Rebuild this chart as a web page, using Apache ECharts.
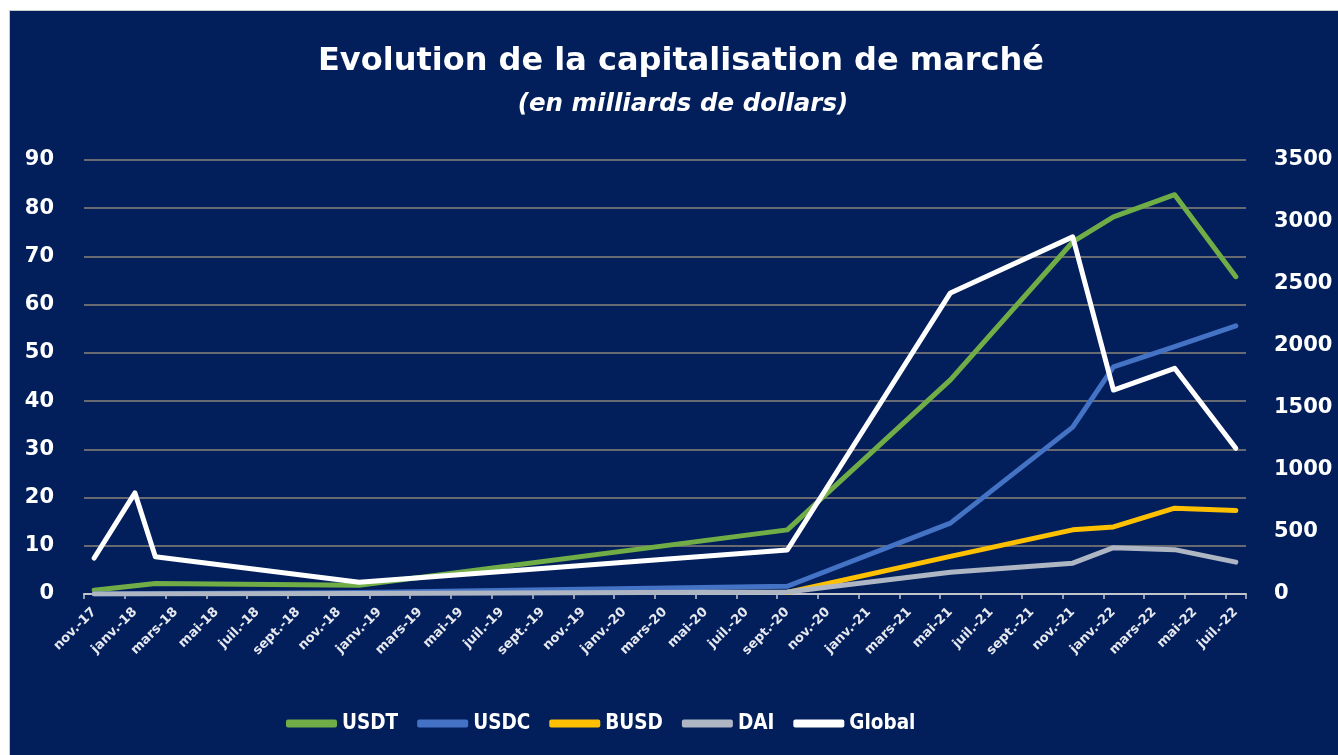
<!DOCTYPE html>
<html>
<head>
<meta charset="utf-8">
<script src="https://cdn.jsdelivr.net/npm/echarts@6/dist/echarts.min.js"></script>
<style>
  html, body { margin: 0; padding: 0; background: #ffffff; }
  #panel { position: absolute; left: 9px; top: 10px; width: 1329px; height: 745px;
           background: #021F5C; border-top: 1px solid #c9c9c9; border-left: 1px solid #c9c9c9; box-sizing: border-box; }
  #chart { position: absolute; left: 0; top: 0; width: 1338px; height: 755px; }
</style>
</head>
<body>
<div id="panel"></div>
<div id="chart"></div>
<script>
// Monthly categories (labels shown every 2 months)
const months = [
  'nov.-17','déc.-17',
  'janv.-18','févr.-18','mars-18','avr.-18','mai-18','juin-18','juil.-18','août-18','sept.-18','oct.-18','nov.-18','déc.-18',
  'janv.-19','févr.-19','mars-19','avr.-19','mai-19','juin-19','juil.-19','août-19','sept.-19','oct.-19','nov.-19','déc.-19',
  'janv.-20','févr.-20','mars-20','avr.-20','mai-20','juin-20','juil.-20','août-20','sept.-20','oct.-20','nov.-20','déc.-20',
  'janv.-21','févr.-21','mars-21','avr.-21','mai-21','juin-21','juil.-21','août-21','sept.-21','oct.-21','nov.-21','déc.-21',
  'janv.-22','févr.-22','mars-22','avr.-22','mai-22','juin-22','juil.-22'
];
// Months at which values are observed
const pointMonths = ['nov.-17','janv.-18','févr.-18','déc.-18','sept.-20','mai-21','nov.-21','janv.-22','avr.-22','juil.-22'];
// Values in billions of dollars (null = no point at that month)
const usdt   = [0.8, null, 2.2, 1.8, 13.3, 44.4, 73.0, 78.2, 82.8, 65.8];
const usdc   = [0.0, null, null, 0.3, 1.6, 14.7, 34.6, 47.1, 51.3, 55.6];
const busd   = [null, null, null, null, 0.3, 7.8, 13.3, 13.9, 17.8, 17.3];
const dai    = [0.0, null, null, 0.1, 0.4, 4.5, 6.4, 9.6, 9.2, 6.6];
const global = [290, 815, 300, 95, 355, 2428, 2880, 1645, 1820, 1175];

const leftTicks  = {min: 0, max: 90, interval: 10};
const rightTicks = {min: 0, max: 3500, interval: 500};

function pairs(vals) {
  const out = [];
  vals.forEach((v, i) => { if (v !== null) out.push([pointMonths[i], v]); });
  return out;
}

const chart = echarts.init(document.getElementById('chart'), null, {renderer: 'canvas'});
const baseFont = '"DejaVu Sans", sans-serif';
function line(name, color, data, yIdx) {
  return {
    name, type: 'line', data: pairs(data), yAxisIndex: yIdx || 0,
    symbol: 'none', showSymbol: false,
    lineStyle: {color, width: 5, cap: 'round', join: 'round'},
    itemStyle: {color}, emphasis: {disabled: true}, animation: false
  };
}

chart.setOption({
  backgroundColor: 'transparent',
  animation: false,
  graphic: [
    {type: 'text', x: 681, y: 62, style: {text: 'Evolution de la capitalisation de marché',
      fill: '#ffffff', font: 'bold 32px ' + baseFont, align: 'center', verticalAlign: 'middle',
      textAlign: 'center', textVerticalAlign: 'middle'}},
    {type: 'text', x: 683, y: 105, style: {text: '(en milliards de dollars)',
      fill: '#ffffff', font: 'italic bold 24.5px ' + baseFont, align: 'center', verticalAlign: 'middle',
      textAlign: 'center', textVerticalAlign: 'middle'}}
  ],
  grid: {left: 84, right: 92, top: 160, bottom: 161, containLabel: false},
  legend: {
    left: 281, top: 708, itemWidth: 51, itemHeight: 8, itemGap: 19, icon: 'roundRect',
    lineStyle: {width: 7, cap: 'round'},
    textStyle: {color: '#ffffff', fontSize: 20.5, fontWeight: 'bold',
      fontFamily: '"Liberation Sans Narrow", "DejaVu Sans Condensed", sans-serif'},
    data: ['USDT', 'USDC', 'BUSD', 'DAI', 'Global'],
    selectedMode: false
  },
  xAxis: {
    type: 'category', data: months, boundaryGap: true,
    axisLine: {lineStyle: {color: '#c3c6cc', width: 2}},
    axisTick: {show: true, interval: 1, length: 5, lineStyle: {color: '#c3c6cc', width: 1.5}},
    axisLabel: {interval: 1, rotate: 45, margin: 16, color: '#e6e8ee',
      fontSize: 13, fontWeight: 'bold', fontFamily: baseFont},
    splitLine: {show: false}
  },
  yAxis: [
    {type: 'value', min: leftTicks.min, max: leftTicks.max, interval: leftTicks.interval,
      axisLine: {show: false}, axisTick: {show: false},
      axisLabel: {margin: 30, color: '#ffffff', fontSize: 21, fontWeight: 'bold', fontFamily: baseFont},
      splitLine: {lineStyle: {color: '#8a8578', width: 1.5}}},
    {type: 'value', min: rightTicks.min, max: rightTicks.max, interval: rightTicks.interval,
      axisLine: {show: false}, axisTick: {show: false},
      axisLabel: {margin: 28, color: '#ffffff', fontSize: 21, fontWeight: 'bold', fontFamily: baseFont,
        formatter: v => String(v)},
      splitLine: {show: false}}
  ],
  series: [
    line('USDT', '#70AD47', usdt),
    line('USDC', '#4472C4', usdc),
    line('BUSD', '#FFC000', busd),
    line('DAI', '#AEB6C4', dai),
    line('Global', '#FFFFFF', global, 1)
  ]
});
</script>
</body>
</html>
